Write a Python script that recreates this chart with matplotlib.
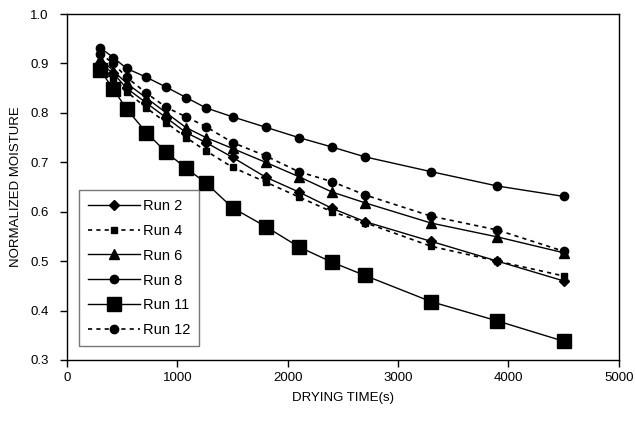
import matplotlib.pyplot as plt
import numpy as np

plt.rcParams['font.family'] = ['Liberation Sans', 'DejaVu Sans']

# drying time (s)
time = [300, 420, 540, 720, 900, 1080, 1260, 1500, 1800, 2100, 2400, 2700, 3300, 3900, 4500]

run2 = [0.900, 0.880, 0.850, 0.820, 0.790, 0.760, 0.740, 0.710, 0.670, 0.640, 0.607, 0.580, 0.540, 0.500, 0.460]
run4 = [0.895, 0.870, 0.843, 0.810, 0.780, 0.750, 0.723, 0.690, 0.660, 0.630, 0.600, 0.578, 0.530, 0.500, 0.470]
run6 = [0.910, 0.885, 0.860, 0.830, 0.800, 0.770, 0.750, 0.728, 0.700, 0.671, 0.640, 0.618, 0.577, 0.549, 0.517]
run8 = [0.932, 0.912, 0.890, 0.872, 0.852, 0.831, 0.810, 0.792, 0.771, 0.750, 0.731, 0.711, 0.681, 0.652, 0.631]
run11 = [0.887, 0.848, 0.808, 0.760, 0.720, 0.688, 0.658, 0.608, 0.570, 0.529, 0.498, 0.471, 0.418, 0.379, 0.338]
run12 = [0.920, 0.900, 0.872, 0.840, 0.811, 0.792, 0.772, 0.740, 0.713, 0.681, 0.661, 0.634, 0.591, 0.563, 0.520]

labels = ['Run 2', 'Run 4', 'Run 6', 'Run 8', 'Run 11', 'Run 12']

fig = plt.figure(figsize=(6.36, 4.21), dpi=100)
ax = fig.add_axes([0.1053, 0.1449, 0.8677, 0.8218])

dots = (0, (2.5, 2.5))
ax.plot(time, run2, color='black', lw=1, marker='D', ms=5.5, label=labels[0])
ax.plot(time, run4, color='black', lw=1.2, ls=dots, marker='s', ms=5, label=labels[1])
ax.plot(time, run6, color='black', lw=1, marker='^', ms=7, label=labels[2])
ax.plot(time, run8, color='black', lw=1, marker='o', ms=6, label=labels[3])
ax.plot(time, run11, color='black', lw=1, marker='s', ms=10, label=labels[4])
ax.plot(time, run12, color='black', lw=1.2, ls=dots, marker='o', ms=6, label=labels[5])

ax.set_xlim(0, 5000)
ax.set_ylim(0.3, 1.0)
ax.set_xticks(np.arange(0, 5001, 1000))
ax.set_yticks(np.arange(0.3, 1.01, 0.1))
ax.set_yticklabels(['0.3', '0.4', '0.5', '0.6', '0.7', '0.8', '0.9', '1.0'])
ax.tick_params(direction='out', length=5, labelsize=9.5, width=1)
ax.tick_params(axis='y', pad=8)
for s in ax.spines.values():
    s.set_linewidth(1)

ax.set_xlabel('DRYING TIME(s)', fontsize=9.5, labelpad=6)
ax.set_ylabel('NORMALIZED MOISTURE', fontsize=9.5, labelpad=6)

leg = ax.legend(loc='lower left', bbox_to_anchor=(0.022, 0.04), fontsize=10.5,
                handlelength=3.6, labelspacing=0.75, fancybox=False,
                edgecolor='#555555', borderpad=0.6, handletextpad=0.2,
                borderaxespad=0)
leg.get_frame().set_linewidth(1)

fig.savefig('out.png', dpi=100)
